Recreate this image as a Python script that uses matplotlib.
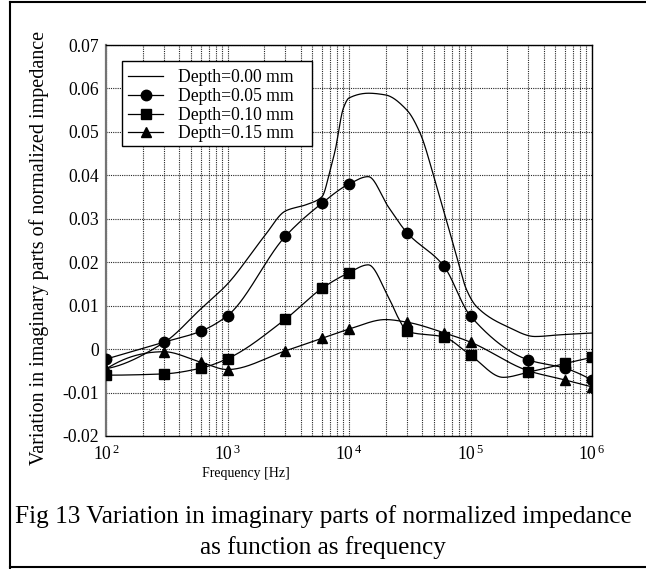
import numpy as np
import matplotlib
matplotlib.use("Agg")
import matplotlib.pyplot as plt
from matplotlib.lines import Line2D
from matplotlib.patches import Rectangle
from matplotlib.ticker import FixedLocator, LogLocator, FuncFormatter, NullFormatter

# ---------------- data ----------------
# marker frequencies and values for the three marked series
freq = [1e2, 3e2, 6e2, 1e3, 3e3, 6e3, 1e4, 3e4, 6e4, 1e5, 3e5, 6e5, 1e6]
depth_005 = [-0.0023, 0.0016, 0.0041, 0.0077, 0.0260, 0.0336, 0.0380, 0.0268, 0.0192, 0.0076, -0.0025, -0.0044, -0.0071]
depth_010 = [-0.0060, -0.0057, -0.0044, -0.0022, 0.0069, 0.0140, 0.0176, 0.0041, 0.0028, -0.0014, -0.0053, -0.0033, -0.0019]
depth_015 = [-0.0046, -0.0006, -0.0030, -0.0047, -0.0004, 0.0025, 0.0046, 0.0062, 0.0038, 0.0016, -0.0050, -0.0071, -0.0087]

# extra points (between markers)
extra_005_f = [1.44e4, 2.1e4]
extra_005_v = [0.0397, 0.0328]
extra_010_f = [1.44e4, 2.1e4, 2.6e4, 1.86e5]
extra_010_v = [0.0194, 0.0121, 0.0067, -0.0065]
extra_015_f = [2.0e4]
extra_015_v = [0.0068]

# unmarked series (Depth = 0.00 mm)
freq_000 = [1e2, 3e2, 6e2, 1e3, 2e3, 3e3, 4.5e3, 6e3, 7e3, 7.7e3, 9e3, 1e4, 1.45e4, 2e4, 3e4,
            3.85e4, 5e4, 6e4, 7.7e4, 9.3e4, 1.12e5, 2e5, 3.4e5, 5.5e5, 1e6]
depth_000 = [-0.0045, 0.0015, 0.0092, 0.0150, 0.0259, 0.0318, 0.0333, 0.0351, 0.0412, 0.0458, 0.0555, 0.0578,
             0.0589, 0.0585, 0.0550, 0.0497, 0.0397, 0.0320, 0.0213, 0.0136, 0.0098, 0.0052, 0.0029,
             0.0033, 0.0037]

labels = ["Depth=0.00 mm", "Depth=0.05 mm", "Depth=0.10 mm", "Depth=0.15 mm"]
markers = [None, "o", "s", "^"]
y_ticks = [-0.02, -0.01, 0.0, 0.01, 0.02, 0.03, 0.04, 0.05, 0.06, 0.07]
x_decades = [1e2, 1e3, 1e4, 1e5, 1e6]
x_label = "Frequency [Hz]"
y_label = "Variation in imaginary parts of normalized impedance"
caption1 = "Fig 13 Variation in imaginary parts of normalized impedance"
caption2 = "as function as frequency"


def pchip(x, y, xx):
    x = np.asarray(x, float); y = np.asarray(y, float)
    h = np.diff(x); dl = np.diff(y) / h
    n = len(x); d = np.zeros(n)
    for k in range(1, n - 1):
        if dl[k - 1] * dl[k] > 0:
            w1 = 2 * h[k] + h[k - 1]; w2 = h[k] + 2 * h[k - 1]
            d[k] = (w1 + w2) / (w1 / dl[k - 1] + w2 / dl[k])

    def endslope(h0, h1, d0, d1):
        s = ((2 * h0 + h1) * d0 - h0 * d1) / (h0 + h1)
        if np.sign(s) != np.sign(d0):
            s = 0.0
        elif np.sign(d0) != np.sign(d1) and abs(s) > abs(3 * d0):
            s = 3 * d0
        return s
    d[0] = endslope(h[0], h[1], dl[0], dl[1])
    d[-1] = endslope(h[-1], h[-2], dl[-1], dl[-2])
    idx = np.clip(np.searchsorted(x, xx) - 1, 0, n - 2)
    hh = h[idx]; t = (xx - x[idx]) / hh
    h00 = 2 * t ** 3 - 3 * t ** 2 + 1; h10 = t ** 3 - 2 * t ** 2 + t
    h01 = -2 * t ** 3 + 3 * t ** 2; h11 = t ** 3 - t ** 2
    return h00 * y[idx] + h10 * hh * d[idx] + h01 * y[idx + 1] + h11 * hh * d[idx + 1]


def curve(fs, vs, ef=(), ev=()):
    f = np.concatenate([fs, ef]); v = np.concatenate([vs, ev])
    o = np.argsort(f)
    u = np.log10(f[o])
    uu = np.linspace(u[0], u[-1], 800)
    return 10 ** uu, pchip(u, v[o], uu)


plt.rcParams['font.family'] = ['Liberation Serif', 'DejaVu Serif']
plt.rcParams['mathtext.fontset'] = 'stix'

W, H = 646, 569
fig = plt.figure(figsize=(W / 100, H / 100), dpi=100)
ax = fig.add_axes([106 / W, 1 - 436 / H, (592 - 106) / W, (436 - 45) / H])

ax.set_xscale('log')
ax.set_xlim(1e2, 1e6)
ax.set_ylim(-0.02, 0.07)

LW = 0.9
MS = 7.5
# Depth 0.00 (line only)
ax.plot(*curve(freq_000, depth_000), color='black', lw=LW, zorder=3)
# marked series
for vals, ef, ev, m in [(depth_005, extra_005_f, extra_005_v, 'o'),
                        (depth_010, extra_010_f, extra_010_v, 's'),
                        (depth_015, extra_015_f, extra_015_v, '^')]:
    ax.plot(*curve(freq, vals, ef, ev), color='black', lw=LW, zorder=3)
    ax.plot(freq, vals, linestyle='none', marker=m, color='black',
            markersize=MS if m != 's' else 7, zorder=4)

handles = [Line2D([], [], color='black', lw=LW, marker=m, markersize=MS if m != 's' else 7, label=lab)
           for m, lab in zip(markers, labels)]

# axes / grid
ax.xaxis.set_major_locator(FixedLocator(x_decades))
ax.xaxis.set_minor_locator(LogLocator(base=10, subs=np.arange(2, 10)))
ax.xaxis.set_minor_formatter(NullFormatter())
ax.xaxis.set_major_formatter(FuncFormatter(lambda v, p: r'$\mathregular{10^{\,%d}}$' % round(np.log10(v))))
ax.yaxis.set_major_locator(FixedLocator(y_ticks))
ax.yaxis.set_major_formatter(FuncFormatter(lambda v, p: '0' if abs(v) < 1e-9 else '%.2f' % v))
ax.grid(True, which='both', axis='x', color='0.15', linestyle=(0, (1, 1)), lw=0.8)
ax.grid(True, which='major', axis='y', color='0.15', linestyle=(0, (1, 1)), lw=0.8)
ax.tick_params(which='both', length=0, labelsize=12.7, colors='black')
ax.tick_params(axis='x', pad=6)
ax.tick_params(axis='y', pad=5)
for s in ['top', 'right', 'bottom']:
    ax.spines[s].set_color('black'); ax.spines[s].set_linewidth(1.0)
ax.spines['left'].set_color('0.45'); ax.spines['left'].set_linewidth(1.6)

ax.set_xlabel(x_label, fontsize=10)
ax.xaxis.set_label_coords((246 - 106) / 486, -(467 - 436) / 391)
ax.set_ylabel(y_label, fontsize=14.5)
ax.yaxis.set_label_coords(-(106 - 49) / 486, (436 - 248) / 391)

# legend (frame drawn as a separate rectangle to match the reference box)
leg = ax.legend(handles=handles, loc='upper left', bbox_to_anchor=((122 - 106) / 486, (436 - 63) / 391),
                borderaxespad=0, fontsize=12.7, frameon=False,
                handlelength=2.0, handletextpad=0.8, labelspacing=0.1, borderpad=0.35)
leg.set_zorder(11)
ax.add_patch(Rectangle(((122 - 106) / 486, (436 - 146) / 391), (312 - 122) / 486, (146 - 61) / 391,
                       transform=ax.transAxes, facecolor='white', edgecolor='black', lw=1.0, zorder=10))

fig.text(0.5, 1 - 517 / H, caption1, ha='center', va='center', fontsize=18.2)
fig.text(0.5, 1 - 548 / H, caption2, ha='center', va='center', fontsize=18.2)

# outer frame
fig.add_artist(Line2D([10 / W, 10 / W], [0, 1 - 2 / H], transform=fig.transFigure, color='black', lw=1.5))
fig.add_artist(Line2D([10 / W, 1], [1 - 2 / H, 1 - 2 / H], transform=fig.transFigure, color='black', lw=1.5))
fig.add_artist(Line2D([10 / W, 1], [1 - 567 / H, 1 - 567 / H], transform=fig.transFigure, color='black', lw=1.5))

fig.savefig('out.png', dpi=100)
